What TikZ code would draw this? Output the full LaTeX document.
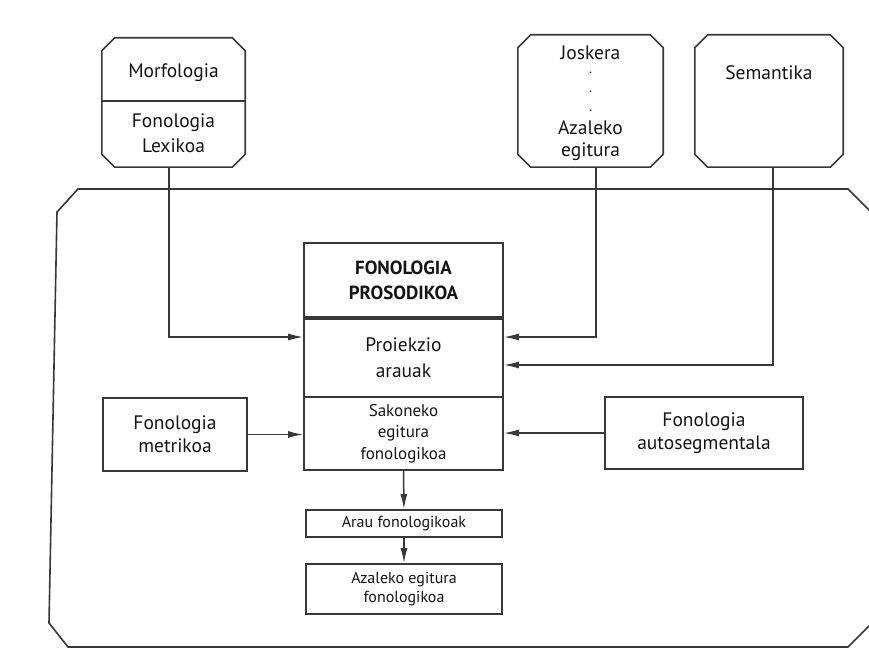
\documentclass[tikz,border=0pt]{standalone}
\usepackage{fontspec}
\setmainfont{PT Sans}
\usetikzlibrary{arrows.meta}
\definecolor{ln}{HTML}{383838}
\definecolor{tx}{HTML}{141414}
\tikzset{
  boxline/.style={draw=ln, line width=1.6pt, line join=miter},
  plain/.style={draw=ln, line width=1.6pt, inner sep=0pt, text=tx},
  anchorbox/.style={draw=none, inner sep=0pt},
  lbl/.style={text=tx, inner sep=0pt, align=center, font=\fontsize{19.5}{25}\selectfont},
  dotlbl/.style={text=tx, inner sep=0pt, font=\fontsize{14}{14}\selectfont},
  conn/.style={draw=ln, line width=1.5pt, -{Latex[length=15pt,width=7pt]}},
}
\newcommand\chamfer[2]{%
  \draw[boxline] ([xshift=#2]#1.north west) -- ([xshift=-#2]#1.north east)
    -- ([yshift=-#2]#1.north east) -- ([yshift=#2]#1.south east)
    -- ([xshift=-#2]#1.south east) -- ([xshift=#2]#1.south west)
    -- ([yshift=#2]#1.south west) -- ([yshift=-#2]#1.north west) -- cycle;}
\begin{document}
\begin{tikzpicture}[x=1pt,y=-1pt]
\useasboundingbox (0,0) rectangle (869,655);
\fill[white] (0,0) rectangle (869,655);
\clip (0,0) rectangle (869,655);
% outer frame
\draw[boxline] (78,189) -- (848,189) -- (873,214) -- (873,622) -- (848,647)
  -- (68,647) -- (49,623) -- (57,212) -- cycle;
% top boxes
\node[anchorbox, minimum width=143pt, minimum height=129pt] (morf) at (173.5,102.5) {};
\chamfer{morf}{13pt}
\draw[boxline] (morf.west |- 0,101) -- (morf.east |- 0,101);
\node[lbl] (morftxt) at (173.5,73) {Morfologia};
\node[lbl] (fonlex) at (173.5,133) {Fonologia\\Lexikoa};

\node[anchorbox, minimum width=145pt, minimum height=132pt] (josk) at (590.5,101) {};
\chamfer{josk}{13pt}
\node[lbl] (josktxt) at (590.5,53) {Joskera};
\node[dotlbl] (dot1) at (590.5,73) {.};
\node[dotlbl] (dot2) at (590.5,92) {.};
\node[dotlbl] (dot3) at (590.5,111) {.};
\node[lbl, font=\fontsize{19.5}{22}\selectfont] (azeg) at (590.5,141) {Azaleko\\egitura};

\node[anchorbox, minimum width=148pt, minimum height=132pt] (sem) at (769,101) {};
\chamfer{sem}{13pt}
\node[lbl] (semtxt) at (769,73) {Semantika};

% central column
\node[plain, minimum width=199pt, minimum height=74pt, align=center,
  font=\fontsize{19}{25}\selectfont\bfseries] (pros) at (403.5,280) {FONOLOGIA\\PROSODIKOA};
\node[plain, minimum width=199pt, minimum height=78pt, align=center,
  font=\fontsize{19.5}{26}\selectfont] (proj) at (403.5,358) {Proiekzio\\arauak};
\node[plain, minimum width=199pt, minimum height=73pt, align=center,
  font=\fontsize{17}{21.5}\selectfont] (sak) at (403.5,433.5) {Sakoneko\\egitura\\fonologikoa};

\node[plain, minimum width=144pt, minimum height=73pt, align=center,
  font=\fontsize{19.5}{23}\selectfont] (met) at (175,434.5) {Fonologia\\metrikoa};
\node[plain, minimum width=198pt, minimum height=72pt, align=center,
  font=\fontsize{19.5}{23}\selectfont] (auto) at (704,433) {Fonologia\\autosegmentala};

\node[plain, minimum width=196pt, minimum height=27pt, align=center,
  font=\fontsize{16}{18}\selectfont] (arau) at (404,523.5) {Arau fonologikoak};
\node[plain, minimum width=196pt, minimum height=50pt, align=center,
  font=\fontsize{16}{19}\selectfont] (aza) at (404,589) {Azaleko egitura\\fonologikoa};

% connectors
\draw[conn] ([xshift=-4.5pt]morf.south) |- ([yshift=21pt]proj.west);
\draw[conn] ([xshift=5.5pt]josk.south) |- ([yshift=21pt]proj.east);
\draw[conn] ([xshift=4pt]sem.south) |- ([yshift=-7pt]proj.east);
\draw[conn] (met.east) -- (met.east -| sak.west);
\draw[conn] (auto.west) -- (auto.west -| sak.east);
\draw[conn] (sak.south) -- (arau.north);
\draw[conn] (arau.south) -- (aza.north);
\end{tikzpicture}
\end{document}
